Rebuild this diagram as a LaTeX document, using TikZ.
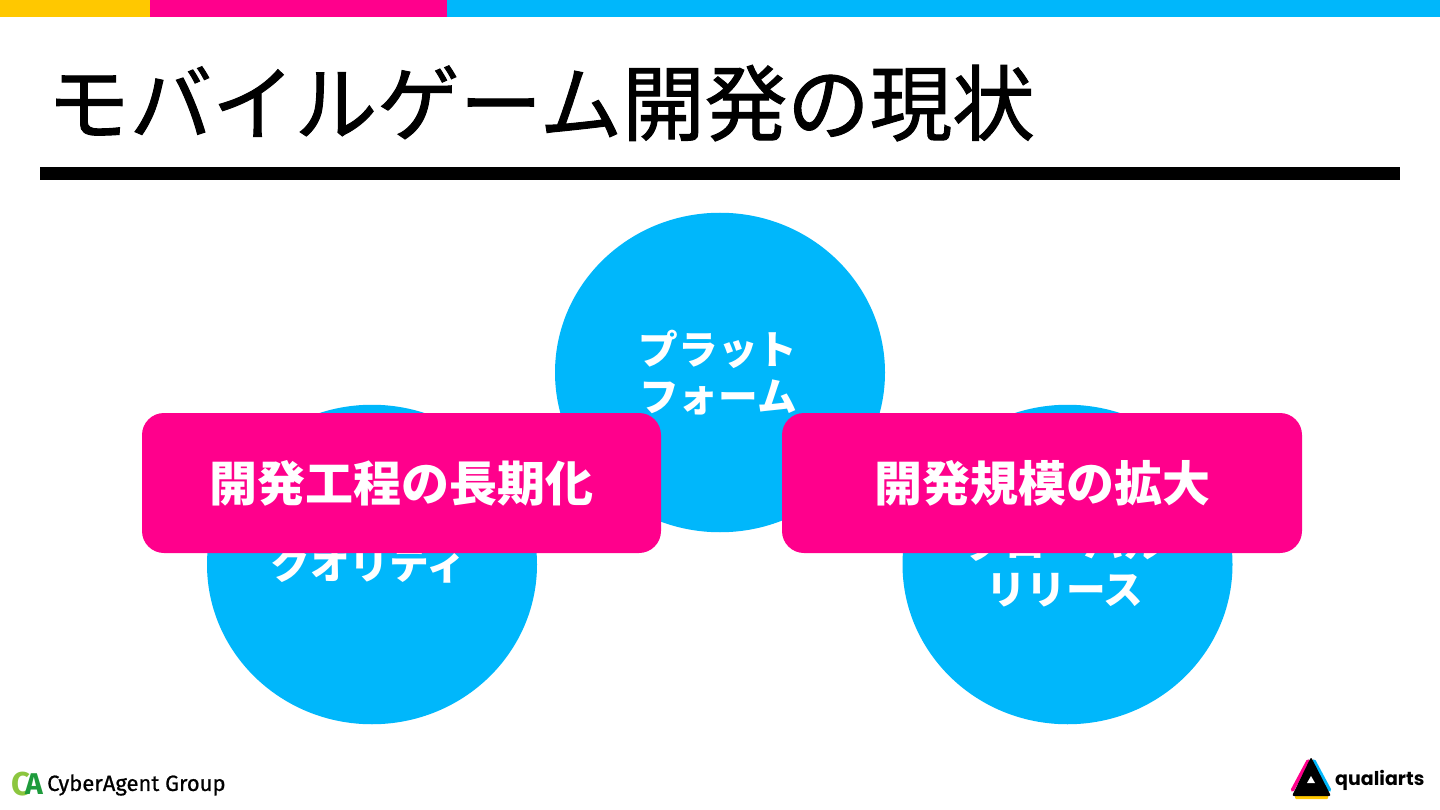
\documentclass[tikz,border=0pt]{standalone}
\usepackage{fontspec}
\setmainfont{Liberation Sans}
\newfontfamily\jpfont{Noto Sans CJK JP}
\newfontfamily\jptitle[FakeBold=1.2]{Noto Sans CJK JP}
\newfontfamily\logofont[FakeBold=0.8]{Fira Sans}
\newfontfamily\caFont{Fira Sans}
\newfontfamily\qfont{Poppins}
\definecolor{cblue}{HTML}{00B7FB}
\definecolor{cpink}{HTML}{FF008C}
\definecolor{cyellow}{HTML}{FFC800}
\definecolor{cgreenA}{HTML}{1E9B3C}
\definecolor{cgreenC}{HTML}{8CC63F}
\usetikzlibrary{shapes.geometric}
\tikzset{
  x=1pt,y=-1pt,
  bubble/.style={ellipse,fill=cblue,draw=none,minimum width=330pt,minimum height=319.5pt,inner sep=0pt},
  bubbletext/.style={text=white,align=center,font=\jpfont\bfseries\fontsize{39.7}{47}\selectfont,inner sep=0pt},
  banner/.style={rectangle,rounded corners=22pt,fill=cpink,draw=none,minimum width=519pt,minimum height=140pt,inner sep=0pt},
  bannertext/.style={text=white,font=\jpfont\bfseries\fontsize{48}{50}\selectfont,inner sep=0pt},
}
\begin{document}
\begin{tikzpicture}
\useasboundingbox (0,0) rectangle (1440,810);
\fill[white] (0,0) rectangle (1440,810);
% top bars
\fill[cyellow] (0,0) rectangle (150,17);
\fill[cpink] (150,0) rectangle (447,17);
\fill[cblue] (447,0) rectangle (1440,17);
% title
\node[anchor=west,inner sep=0pt,font=\jptitle\fontsize{82.5}{90}\selectfont] (title) at (47,103) {モバイルゲーム開発の現状};
\fill[black] (40,167) rectangle (1400,180);
% circles
\node[bubble] (c1) at (720,372.5) {};
\node[bubble] (c2) at (372,564.5) {};
\node[bubble] (c3) at (1067.5,564.5) {};
\node[bubbletext] (t1) at (718,372.5) {プラット\\フォーム};
\node[bubbletext] (t2) at (368.5,564.5) {クオリティ};
\node[bubbletext] (t3) at (1065,564.5) {グローバル\\リリース};
% banners
\node[banner] (b1) at (401.5,483) {};
\node[banner,minimum width=520pt] (b2) at (1042,483) {};
\node[bannertext] (bt1) at (401,483.5) {開発工程の長期化};
\node[bannertext] (bt2) at (1042,483.5) {開発規模の拡大};
% CyberAgent logo
\node[inner sep=0pt,anchor=west,text=cgreenC,font=\caFont\bfseries\fontsize{33}{34}\selectfont] (ca1) at (11,784) {C};
\node[inner sep=0pt,anchor=west,text=cgreenA,font=\caFont\bfseries\fontsize{30}{34}\selectfont] (ca2) at (25,784) {A};
\node[inner sep=0pt,anchor=west,font=\logofont\fontsize{22}{26}\selectfont] (cag) at (47,785) {CyberAgent Group};
% qualiarts logo
\fill[cyellow,rounded corners=1pt] (1295,793) rectangle (1328,799);
\draw[cpink,line width=3.5pt,line cap=round] (1292.5,790) -- (1308,761);
\draw[cblue,line width=3.5pt,line cap=round] (1314,761) -- (1329.5,790);
\fill[black,rounded corners=2pt] (1311,757) -- (1331,796) -- (1292,796) -- cycle;
\fill[white] (1311,776) -- (1315,783) -- (1307,783) -- cycle;
\node[inner sep=0pt,anchor=west,font=\qfont\bfseries\fontsize{19}{22}\selectfont] (qa) at (1335,780) {qualiarts};
\end{tikzpicture}
\end{document}
